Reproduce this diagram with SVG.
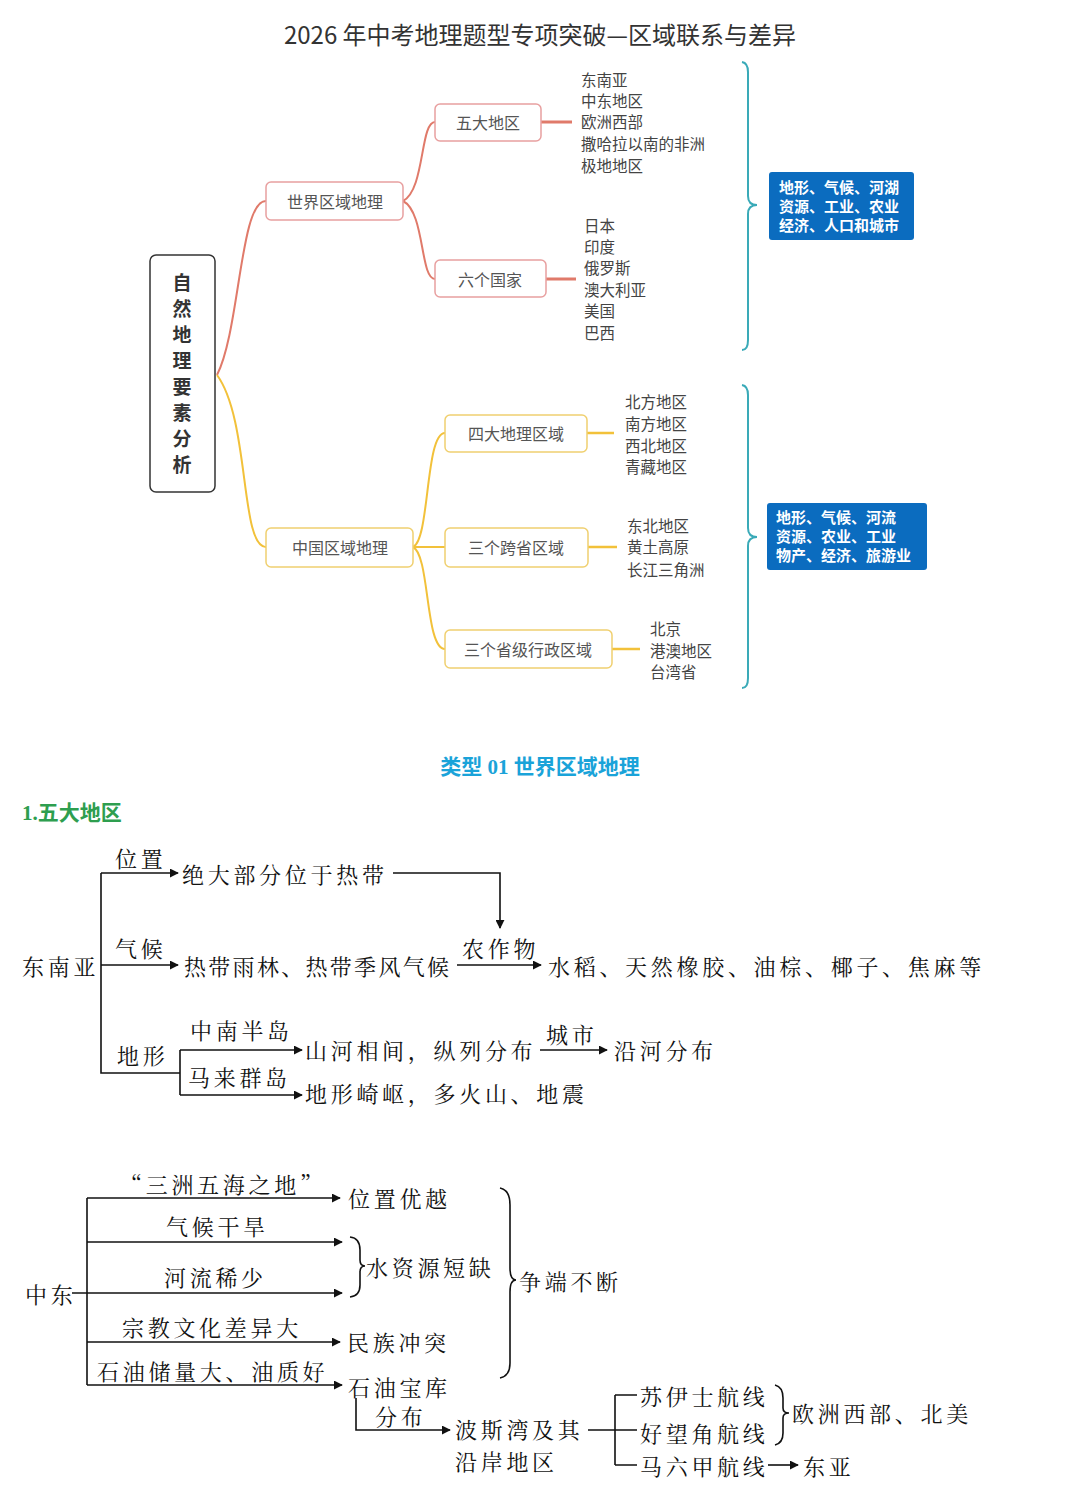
<svg xmlns="http://www.w3.org/2000/svg" width="1080" height="1488" viewBox="0 0 1080 1488">
<style>
.t{font-family:"Noto Sans CJK SC","Liberation Sans",sans-serif;fill:#333}
.s{font-size:15.5px;fill:#444}
.rb{fill:#fff;stroke:#e8a0a0;stroke-width:1.5}
.yb{fill:#fff;stroke:#f0d070;stroke-width:1.5}
.nt{font-size:16px;fill:#555;text-anchor:middle;dominant-baseline:central}
.w{font-size:15px;fill:#fff;font-weight:bold}
.b{font-family:"Noto Serif CJK SC","Noto Sans CJK SC",serif;font-size:22px;fill:#111;dominant-baseline:central;letter-spacing:3.7px}
.ln{fill:none;stroke:#111;stroke-width:1.6}
</style>
<defs>
<marker id="a" viewBox="0 0 10 10" refX="9" refY="5" markerWidth="9" markerHeight="9" orient="auto" markerUnits="userSpaceOnUse"><path d="M0,0L10,5L0,10z" fill="#111"/></marker>
</defs>
<rect width="1080" height="1488" fill="#fff"/>
<text class="t" x="540" y="44" font-size="24" text-anchor="middle" fill="#111">2026 年中考地理题型专项突破—区域联系与差异</text>

<g id="connectors-top" fill="none" stroke-width="2">
<path d="M217,375 C240,330 240,200 266,201" stroke="#e07a6a"/>
<path d="M217,375 C250,420 240,547 266,547" stroke="#f2c13a"/>
<path d="M403,201 C425,190 420,122 435,122" stroke="#e07a6a"/>
<path d="M403,201 C425,212 420,279 435,279" stroke="#e07a6a"/>
<path d="M541,122 H572 M546,279 H576" stroke="#e07a6a" stroke-width="3"/>
<path d="M413,547 C430,540 425,433 445,433" stroke="#f2c13a"/>
<path d="M413,547 H445" stroke="#f2c13a"/>
<path d="M413,547 C430,555 425,649 445,649" stroke="#f2c13a"/>
<path d="M587,433 H614 M588,547 H617 M612,649 H640" stroke="#f2c13a" stroke-width="2.5"/>
<path d="M742,62 Q748,63 748,72 V196 Q748,205 757,205 Q748,205 748,214 V340 Q748,350 742,350" stroke="#3aaab8"/>
<path d="M742,385 Q748,386 748,395 V528 Q748,537 757,537 Q748,537 748,546 V678 Q748,688 742,688" stroke="#3aaab8"/>
</g>

<g id="main"><rect x="150" y="255" width="65" height="237" rx="6" fill="#fff" stroke="#333" stroke-width="1.5"/>
<text class="t" font-size="19" font-weight="bold" fill="#1a2a4a" text-anchor="middle"><tspan x="182" y="290">自</tspan><tspan x="182" y="316">然</tspan><tspan x="182" y="342">地</tspan><tspan x="182" y="368">理</tspan><tspan x="182" y="394">要</tspan><tspan x="182" y="420">素</tspan><tspan x="182" y="446">分</tspan><tspan x="182" y="472">析</tspan></text></g>
<g id="world"><rect class="rb" x="266" y="182" width="137" height="38" rx="5"/><text class="t nt" x="335" y="201">世界区域地理</text></g>
<g id="five"><rect class="rb" x="435" y="104" width="106" height="37" rx="5"/><text class="t nt" x="488" y="122">五大地区</text></g>
<g id="six"><rect class="rb" x="435" y="260" width="111" height="37" rx="5"/><text class="t nt" x="490" y="279">六个国家</text></g>
<g id="list1"><text class="t s"><tspan x="581" y="86">东南亚</tspan><tspan x="581" y="107">中东地区</tspan><tspan x="581" y="128">欧洲西部</tspan><tspan x="581" y="150">撒哈拉以南的非洲</tspan><tspan x="581" y="172">极地地区</tspan></text></g>
<g id="list2"><text class="t s"><tspan x="584" y="232">日本</tspan><tspan x="584" y="253">印度</tspan><tspan x="584" y="274">俄罗斯</tspan><tspan x="584" y="296">澳大利亚</tspan><tspan x="584" y="317">美国</tspan><tspan x="584" y="339">巴西</tspan></text></g>
<g id="blue1"><rect x="769" y="172" width="145" height="68" rx="3" fill="#0b6cbf"/><text class="t w"><tspan x="779" y="193">地形、气候、河湖</tspan><tspan x="779" y="212">资源、工业、农业</tspan><tspan x="779" y="231">经济、人口和城市</tspan></text></g>

<g id="china"><rect class="yb" x="266" y="528" width="147" height="39" rx="5"/><text class="t nt" x="340" y="547">中国区域地理</text></g>
<g id="four"><rect class="yb" x="445" y="415" width="142" height="37" rx="5"/><text class="t nt" x="516" y="433">四大地理区域</text></g>
<g id="three1"><rect class="yb" x="445" y="528" width="143" height="39" rx="5"/><text class="t nt" x="516" y="547">三个跨省区域</text></g>
<g id="three2"><rect class="yb" x="445" y="630" width="167" height="38" rx="5"/><text class="t nt" x="528" y="649">三个省级行政区域</text></g>
<g id="list3"><text class="t s"><tspan x="625" y="408">北方地区</tspan><tspan x="625" y="430">南方地区</tspan><tspan x="625" y="452">西北地区</tspan><tspan x="625" y="473">青藏地区</tspan></text></g>
<g id="list4"><text class="t s"><tspan x="627" y="532">东北地区</tspan><tspan x="627" y="553">黄土高原</tspan><tspan x="627" y="576">长江三角洲</tspan></text></g>
<g id="list5"><text class="t s"><tspan x="650" y="635">北京</tspan><tspan x="650" y="657">港澳地区</tspan><tspan x="650" y="678">台湾省</tspan></text></g>
<g id="blue2"><rect x="767" y="503" width="160" height="67" rx="3" fill="#0b6cbf"/><text class="t w"><tspan x="776" y="523">地形、气候、河流</tspan><tspan x="776" y="542">资源、农业、工业</tspan><tspan x="776" y="561">物产、经济、旅游业</tspan></text></g>

<text x="540" y="774" font-family="Liberation Serif,'Noto Sans CJK SC',serif" font-size="21" font-weight="bold" fill="#1aa3d9" text-anchor="middle">类型 01  世界区域地理</text>
<text x="22" y="820" font-family="Liberation Serif,'Noto Sans CJK SC',serif" font-size="21" font-weight="bold" fill="#2e9e4f">1.五大地区</text>

<g id="connectors">
<path class="ln" d="M101,873 V1073 H180"/>
<path class="ln" d="M101,873 H178" marker-end="url(#a)"/>
<path class="ln" d="M101,965 H178" marker-end="url(#a)"/>
<path class="ln" d="M393,873 H500 V928" marker-end="url(#a)"/>
<path class="ln" d="M457,965 H541" marker-end="url(#a)"/>
<path class="ln" d="M180,1050 V1095"/>
<path class="ln" d="M180,1050 H302" marker-end="url(#a)"/>
<path class="ln" d="M180,1095 H302" marker-end="url(#a)"/>
<path class="ln" d="M540,1050 H607" marker-end="url(#a)"/>
<path class="ln" d="M87,1198 V1385"/>
<path class="ln" d="M87,1198 H340" marker-end="url(#a)"/>
<path class="ln" d="M87,1242 H342" marker-end="url(#a)"/>
<path class="ln" d="M72,1293 H342" marker-end="url(#a)"/>
<path class="ln" d="M87,1342 H340" marker-end="url(#a)"/>
<path class="ln" d="M87,1385 H342" marker-end="url(#a)"/>
<path class="ln" d="M350,1237 Q360,1238 360,1250 V1260 Q360,1266 365,1266 Q360,1266 360,1272 V1285 Q360,1296 350,1297"/>
<path class="ln" d="M500,1188 Q510,1190 510,1205 V1268 Q510,1280 516,1280 Q510,1280 510,1292 V1363 Q510,1376 500,1378"/>
<path class="ln" d="M356,1398 V1430 H450" marker-end="url(#a)"/>
<path class="ln" d="M588,1430 H637 M615,1395 V1465 M615,1395 H637 M615,1465 H637"/>
<path class="ln" d="M775,1385 Q783,1387 783,1398 V1408 Q783,1413 789,1413 Q783,1413 783,1418 V1433 Q783,1443 775,1445"/>
<path class="ln" d="M768,1465 H798" marker-end="url(#a)"/>
</g>

<g id="sea" class="b">
<text x="22" y="965">东南亚</text>
<text x="115" y="857">位置</text>
<text x="182" y="873">绝大部分位于热带</text>
<text x="115" y="947">气候</text>
<text x="184" y="965" style="letter-spacing:2.3px">热带雨林、热带季风气候</text>
<text x="462" y="947">农作物</text>
<text x="548" y="965">水稻、天然橡胶、油棕、椰子、焦麻等</text>
<text x="117" y="1054">地形</text>
<text x="190" y="1029">中南半岛</text>
<text x="305" y="1049">山河相间，纵列分布</text>
<text x="546" y="1033">城市</text>
<text x="614" y="1049">沿河分布</text>
<text x="188" y="1076">马来群岛</text>
<text x="305" y="1092">地形崎岖，多火山、地震</text>
</g>
<g id="me" class="b">
<text x="25" y="1293">中东</text>
<text x="120" y="1183">“三洲五海之地”</text>
<text x="348" y="1197">位置优越</text>
<text x="166" y="1225">气候干旱</text>
<text x="164" y="1276">河流稀少</text>
<text x="366" y="1266">水资源短缺</text>
<text x="519" y="1280">争端不断</text>
<text x="122" y="1326">宗教文化差异大</text>
<text x="347" y="1341">民族冲突</text>
<text x="97" y="1370">石油储量大、油质好</text>
<text x="348" y="1386">石油宝库</text>
<text x="375" y="1415">分布</text>
<text x="455" y="1428">波斯湾及其</text>
<text x="455" y="1460">沿岸地区</text>
<text x="640" y="1395">苏伊士航线</text>
<text x="640" y="1432">好望角航线</text>
<text x="640" y="1465">马六甲航线</text>
<text x="792" y="1412">欧洲西部、北美</text>
<text x="803" y="1465">东亚</text>
</g>
</svg>
